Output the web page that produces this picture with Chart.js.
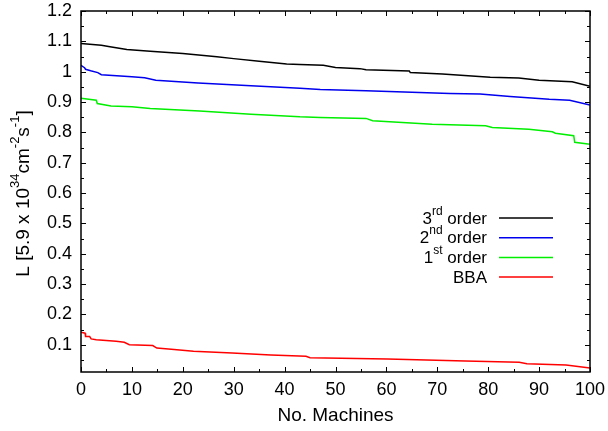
<!DOCTYPE html>
<html>
<head>
<meta charset="utf-8">
<script src="https://cdn.jsdelivr.net/npm/chart.js@4/dist/chart.umd.min.js"></script>
<style>
  html, body { margin: 0; padding: 0; background: #fff; }
  #wrap { width: 608px; height: 431px; }
</style>
</head>
<body>
<div id="wrap"><canvas id="lumi-chart"></canvas></div>
<script>
const seriesNames = ["3rd order", "2nd order", "1st order", "BBA"];

const thirdX = [0, 4, 5.7, 9, 13.6, 20, 26.7, 30, 35, 40.4, 43, 47.6, 50, 54.8, 56, 64.5, 64.7, 71, 80.4, 86, 90, 96.5, 100];
const thirdY = [1.093, 1.087, 1.082, 1.073, 1.067, 1.060, 1.049, 1.043, 1.034, 1.025, 1.024, 1.021, 1.014, 1.010, 1.006, 1.002, 0.997, 0.992, 0.982, 0.979, 0.972, 0.967, 0.952];

const secondX = [0, 0.7, 0.9, 1.9, 3.3, 4, 10, 12.5, 14.7, 23, 33.4, 43, 47, 56, 72.5, 78.4, 84.3, 92, 96, 100];
const secondY = [1.021, 1.013, 1.008, 1.003, 0.997, 0.990, 0.983, 0.980, 0.972, 0.963, 0.954, 0.945, 0.941, 0.937, 0.928, 0.926, 0.918, 0.909, 0.906, 0.890];

const firstX = [0, 3, 3.2, 5.9, 10, 13.6, 23.3, 33.4, 43, 47, 56, 57.3, 69, 79.5, 80.8, 88, 92.6, 93.2, 96.8, 97, 100];
const firstY = [0.912, 0.906, 0.895, 0.887, 0.884, 0.879, 0.870, 0.860, 0.851, 0.849, 0.846, 0.838, 0.827, 0.822, 0.816, 0.810, 0.802, 0.797, 0.789, 0.767, 0.761];

const bbaX = [0, 0.8, 0.9, 1.7, 2, 3, 6.9, 8.5, 9.5, 14.1, 14.9, 18.3, 22.1, 29.7, 37.3, 44.2, 45, 60.2, 75.5, 86.1, 87.6, 95.3, 100];
const bbaY = [0.141, 0.138, 0.127, 0.127, 0.119, 0.116, 0.111, 0.108, 0.100, 0.097, 0.089, 0.084, 0.078, 0.073, 0.066, 0.062, 0.057, 0.053, 0.046, 0.042, 0.037, 0.033, 0.023];

const xTicks = [0, 10, 20, 30, 40, 50, 60, 70, 80, 90, 100];
const yTicks = [0.1, 0.2, 0.3, 0.4, 0.5, 0.6, 0.7, 0.8, 0.9, 1, 1.1, 1.2];

const colors = ["#000000", "#0000ee", "#00ee00", "#ff0000"];
const FONT = "Liberation Sans, Arial, Helvetica, sans-serif";

function pts(xs, ys) {
  return xs.map((x, i) => ({ x: x, y: ys[i] }));
}

// frame with inward ticks on all four sides (gnuplot look)
const framePlugin = {
  id: "frame",
  afterDatasetsDraw(chart) {
    const ctx = chart.ctx;
    const a = chart.chartArea;
    const xs = chart.scales.x;
    const ys = chart.scales.y;
    ctx.save();
    ctx.strokeStyle = "#000";
    ctx.lineWidth = 1;
    ctx.beginPath();
    xTicks.forEach((v) => {
      const px = Math.round(xs.getPixelForValue(v)) + 0.5;
      ctx.moveTo(px, a.bottom); ctx.lineTo(px, a.bottom - 5);
      ctx.moveTo(px, a.top); ctx.lineTo(px, a.top + 5);
      if (v < 100) {
        const pm = Math.round(xs.getPixelForValue(v + 5)) + 0.5;
        ctx.moveTo(pm, a.bottom); ctx.lineTo(pm, a.bottom - 3);
        ctx.moveTo(pm, a.top); ctx.lineTo(pm, a.top + 3);
      }
    });
    yTicks.forEach((v) => {
      const py = Math.round(ys.getPixelForValue(v)) + 0.5;
      ctx.moveTo(a.left, py); ctx.lineTo(a.left + 5, py);
      ctx.moveTo(a.right, py); ctx.lineTo(a.right - 5, py);
      const pm = Math.round(ys.getPixelForValue(v - 0.05)) + 0.5;
      ctx.moveTo(a.left, pm); ctx.lineTo(a.left + 3, pm);
      ctx.moveTo(a.right, pm); ctx.lineTo(a.right - 3, pm);
    });
    ctx.stroke();
    ctx.lineWidth = 1.5;
    ctx.strokeRect(a.left, a.top, a.right - a.left, a.bottom - a.top);
    ctx.restore();
  },
};

// draws a run of [text, isSuper] pieces
function drawRich(ctx, parts, x, y, size, align) {
  const big = size + "px " + FONT;
  const small = Math.round(size * 0.7) + "px " + FONT;
  let w = 0;
  parts.forEach(([t, sup]) => { ctx.font = sup ? small : big; w += ctx.measureText(t).width; });
  let cx = align === "right" ? x - w : align === "center" ? x - w / 2 : x;
  ctx.textAlign = "left";
  ctx.textBaseline = "middle";
  parts.forEach(([t, sup]) => {
    ctx.font = sup ? small : big;
    ctx.fillText(t, cx, sup ? y - size * 0.45 : y);
    cx += ctx.measureText(t).width;
  });
}

const textPlugin = {
  id: "richText",
  afterDraw(chart) {
    const ctx = chart.ctx;
    const a = chart.chartArea;
    ctx.save();
    ctx.fillStyle = "#000";
    // y axis title
    ctx.translate(24, (a.top + a.bottom) / 2 + 2);
    ctx.rotate(-Math.PI / 2);
    drawRich(ctx, [["L [5.9 x 10", false], ["34", true], ["cm", false], ["-2", true], ["s", false], ["-1", true], ["]", false]], 0, 0, 19, "center");
    ctx.restore();

    // legend
    const labels = [
      [["3", false], ["rd", true], [" order", false]],
      [["2", false], ["nd", true], [" order", false]],
      [["1", false], ["st", true], [" order", false]],
      [["BBA", false]],
    ];
    ctx.save();
    ctx.fillStyle = "#000";
    labels.forEach((parts, i) => {
      const y = 218 + i * 19.7;
      drawRich(ctx, parts, 487, y + 1, 17, "right");
      ctx.strokeStyle = colors[i];
      ctx.lineWidth = 1.5;
      ctx.beginPath();
      ctx.moveTo(499, y);
      ctx.lineTo(553, y);
      ctx.stroke();
    });
    ctx.restore();
  },
};

const allX = [thirdX, secondX, firstX, bbaX];
const allY = [thirdY, secondY, firstY, bbaY];

new Chart(document.getElementById("lumi-chart"), {
  type: "line",
  data: {
    datasets: seriesNames.map((name, i) => ({
      label: name,
      data: pts(allX[i], allY[i]),
      borderColor: colors[i],
      borderWidth: 1.5,
      pointRadius: 0,
      tension: 0,
      fill: false,
    })),
  },
  options: {
    responsive: true,
    maintainAspectRatio: false,
    animation: false,
    layout: { padding: { top: 11, right: 18, left: 0, bottom: 0 } },
    plugins: { legend: { display: false }, tooltip: { enabled: false } },
    scales: {
      x: {
        type: "linear",
        min: 0,
        max: 100,
        afterFit(s) { s.height = 59; s.paddingLeft = 0; s.paddingRight = 0; },
        grid: { drawOnChartArea: false, drawTicks: false },
        border: { display: false },
        ticks: { stepSize: 10, color: "#000", padding: 7, maxRotation: 0, font: { family: FONT, size: 18 } },
        title: { display: true, text: "No. Machines", color: "#000", padding: { top: 1 }, font: { family: FONT, size: 19 } },
      },
      y: {
        min: 0.01,
        max: 1.2,
        afterFit(s) { s.width = 81; s.paddingTop = 0; s.paddingBottom = 0; },
        grid: { drawOnChartArea: false, drawTicks: false },
        border: { display: false },
        ticks: {
          stepSize: 0.1,
          color: "#000",
          padding: 9,
          font: { family: FONT, size: 18 },
          callback: (v) => (Math.abs(v * 10 - Math.round(v * 10)) < 1e-6 ? String(Math.round(v * 10) / 10) : ""),
        },
      },
    },
  },
  plugins: [framePlugin, textPlugin],
});
</script>
</body>
</html>
